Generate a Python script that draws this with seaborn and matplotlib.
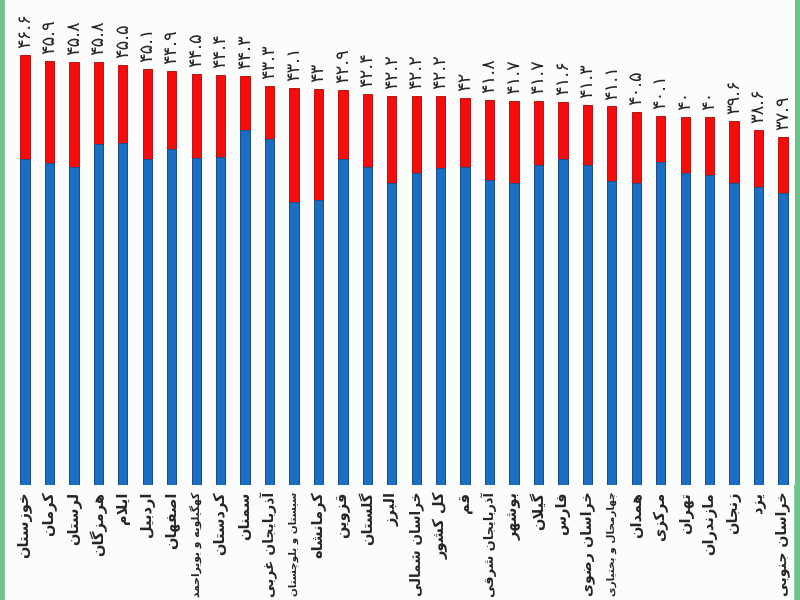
import matplotlib
matplotlib.use("Agg")
import matplotlib.pyplot as plt
import seaborn as sns
import pandas as pd

# provinces, in chart order
provinces = [
    "خوزستان", "کرمان", "لرستان", "هرمزگان", "ایلام", "اردبیل", "اصفهان",
    "کهگیلویه و بویراحمد", "کردستان", "سمنان", "آذربایجان غربی",
    "سیستان و بلوچستان", "کرمانشاه", "قزوین", "گلستان", "البرز",
    "خراسان شمالی", "کل کشور", "قم", "آذربایجان شرقی", "بوشهر", "گیلان",
    "فارس", "خراسان رضوی", "چهارمحال و بختیاری", "همدان", "مرکزی", "تهران",
    "مازندران", "زنجان", "یزد", "خراسان جنوبی",
]
# total bar height (red top), labelled on the chart
totals = [46.6, 45.9, 45.8, 45.8, 45.5, 45.1, 44.9, 44.5, 44.4, 44.3, 43.3,
          43.1, 43.0, 42.9, 42.4, 42.2, 42.2, 42.2, 42.0, 41.8, 41.7, 41.7,
          41.6, 41.3, 41.1, 40.5, 40.1, 40.0, 40.0, 39.6, 38.6, 37.9]
# blue lower part
lower = [35.5, 35.1, 34.7, 37.1, 37.2, 35.5, 36.6, 35.6, 35.7, 38.6, 37.6,
         31.0, 31.2, 35.5, 34.7, 33.0, 34.0, 34.6, 34.7, 33.3, 33.0, 34.9,
         35.5, 34.9, 33.2, 33.0, 35.2, 34.0, 33.8, 33.0, 32.6, 31.9]

# --- minimal arabic/persian shaping (matplotlib does not shape) ---
FORMS = {
    "ا": ("\uFE8D", "\uFE8E", None, None),
    "آ": ("\uFE81", "\uFE82", None, None),
    "ب": ("\uFE8F", "\uFE90", "\uFE91", "\uFE92"),
    "پ": ("\uFB56", "\uFB57", "\uFB58", "\uFB59"),
    "ت": ("\uFE95", "\uFE96", "\uFE97", "\uFE98"),
    "ج": ("\uFE9D", "\uFE9E", "\uFE9F", "\uFEA0"),
    "چ": ("\uFB7A", "\uFB7B", "\uFB7C", "\uFB7D"),
    "ح": ("\uFEA1", "\uFEA2", "\uFEA3", "\uFEA4"),
    "خ": ("\uFEA5", "\uFEA6", "\uFEA7", "\uFEA8"),
    "د": ("\uFEA9", "\uFEAA", None, None),
    "ذ": ("\uFEAB", "\uFEAC", None, None),
    "ر": ("\uFEAD", "\uFEAE", None, None),
    "ز": ("\uFEAF", "\uFEB0", None, None),
    "س": ("\uFEB1", "\uFEB2", "\uFEB3", "\uFEB4"),
    "ش": ("\uFEB5", "\uFEB6", "\uFEB7", "\uFEB8"),
    "ص": ("\uFEB9", "\uFEBA", "\uFEBB", "\uFEBC"),
    "ض": ("\uFEBD", "\uFEBE", "\uFEBF", "\uFEC0"),
    "غ": ("\uFECD", "\uFECE", "\uFECF", "\uFED0"),
    "ف": ("\uFED1", "\uFED2", "\uFED3", "\uFED4"),
    "ق": ("\uFED5", "\uFED6", "\uFED7", "\uFED8"),
    "ک": ("\uFB8E", "\uFB8F", "\uFB90", "\uFB91"),
    "گ": ("\uFB92", "\uFB93", "\uFB94", "\uFB95"),
    "ل": ("\uFEDD", "\uFEDE", "\uFEDF", "\uFEE0"),
    "م": ("\uFEE1", "\uFEE2", "\uFEE3", "\uFEE4"),
    "ن": ("\uFEE5", "\uFEE6", "\uFEE7", "\uFEE8"),
    "ه": ("\uFEE9", "\uFEEA", "\uFEEB", "\uFEEC"),
    "و": ("\uFEED", "\uFEEE", None, None),
    "ی": ("\uFBFC", "\uFBFD", "\uFBFE", "\uFBFF"),
}


def joins_next(ch):
    return ch in FORMS and FORMS[ch][2] is not None


def shape(text):
    out = []
    chars = list(text)
    i = 0
    while i < len(chars):
        ch = chars[i]
        prev = chars[i - 1] if i > 0 else ""
        nxt = chars[i + 1] if i + 1 < len(chars) else ""
        if ch == "ل" and nxt == "ا":  # lam-alef ligature
            out.append("\uFEFC" if joins_next(prev) else "\uFEFB")
            i += 2
            continue
        if ch not in FORMS:
            out.append(ch)
            i += 1
            continue
        iso, fin, ini, med = FORMS[ch]
        a = joins_next(prev)
        b = ini is not None and nxt in FORMS
        if a and b:
            out.append(med)
        elif a:
            out.append(fin)
        elif b:
            out.append(ini)
        else:
            out.append(iso)
        i += 1
    return "".join(reversed(out))


def fa_num(v):
    s = f"{v:g}"
    return s.translate(str.maketrans("0123456789", "۰۱۲۳۴۵۶۷۸۹"))


labels = [shape(p) for p in provinces]
df = pd.DataFrame({"province": labels, "total": totals, "lower": lower})

sns.set_style("white")
plt.rcParams["font.family"] = ["DejaVu Sans"]

fig = plt.figure(figsize=(8, 6), dpi=100, facecolor="#6cc48a")
fig.patches.append(plt.Rectangle((0.006, 0), 0.985, 1, transform=fig.transFigure,
                                 color="#fbfdfd", zorder=-1))
ax = fig.add_axes([0.016, 0.192, 0.978, 0.808])
ax.set_facecolor("#fbfdfd")

sns.barplot(data=df, x="province", y="total", color="#f70c0c", width=0.38,
            saturation=1, edgecolor="#b00000", linewidth=0.6, ax=ax)
red = ax.containers[0]
sns.barplot(data=df, x="province", y="lower", color="#1b6fc2", width=0.38,
            saturation=1, edgecolor="#0d4f96", linewidth=0.6, ax=ax)

ax.bar_label(red, labels=[fa_num(v) for v in totals], rotation=90,
             padding=5, fontsize=13)

ax.set_xlim(-0.5, len(labels) - 0.5)
ax.set_ylim(0.95, 52.4)
ax.set_xlabel("")
ax.set_ylabel("")
ax.set_yticks([])
ax.tick_params(axis="x", length=0, pad=5)
ticklabels = ax.get_xticklabels()
for t in ticklabels:
    t.set_rotation(90)
    t.set_va("top")
    t.set_fontweight("bold")
    t.set_fontsize(10.5)

# shrink any name that would run past the bottom edge
fig.canvas.draw()
renderer = fig.canvas.get_renderer()
for t in ticklabels:
    bb = t.get_window_extent(renderer)
    room = bb.y1 - 3
    if bb.height > room:
        t.set_fontsize(10.5 * room / bb.height)

for s in ax.spines.values():
    s.set_visible(False)

fig.savefig("out.png", dpi=100, facecolor=fig.get_facecolor())
